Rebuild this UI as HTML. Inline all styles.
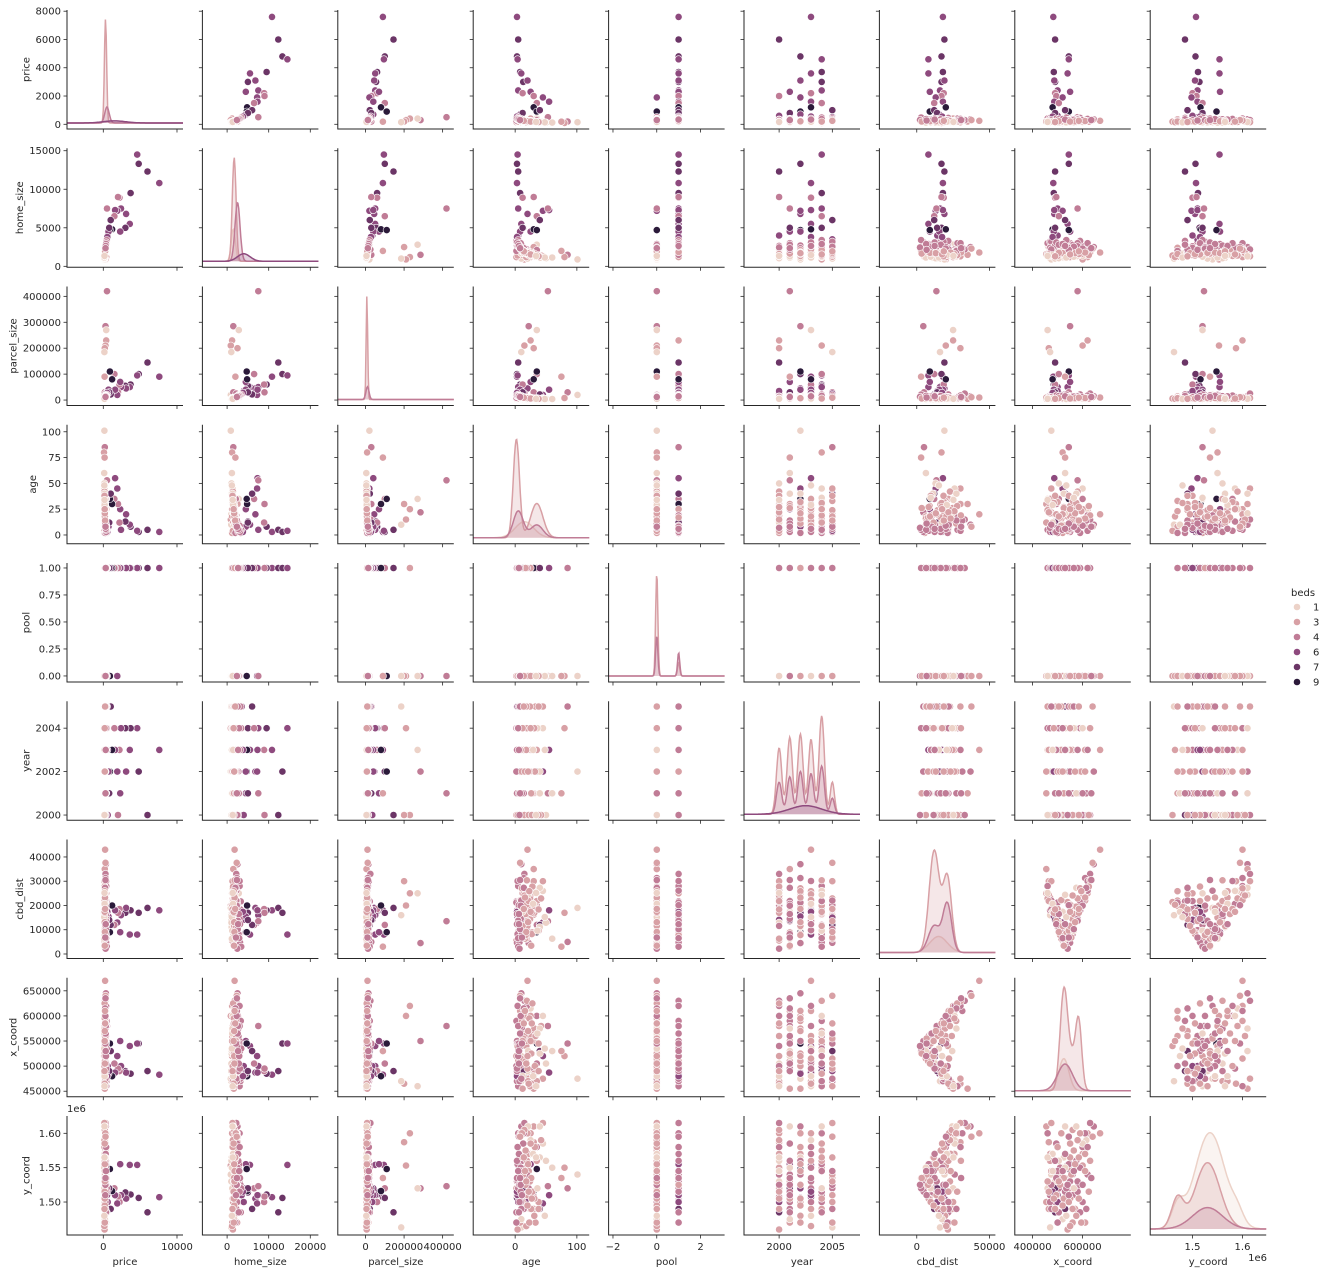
<!DOCTYPE html>
<html><head><meta charset="utf-8">
<style>
html,body{margin:0;padding:0;background:#fff;}
svg text{font-family:"DejaVu Sans","Liberation Sans",sans-serif;fill:#262626;}
</style></head>
<body>
<svg id="chart" xmlns="http://www.w3.org/2000/svg" width="1329" height="1274" viewBox="0 0 1329 1274">
<g id="panels"></g>
<g id="legend">
<text x="1291" y="596" font-size="10">beds</text>
</g>
</svg>
<script>
const vars=['price','home_size','parcel_size','age','pool','year','cbd_dist','x_coord','y_coord'];
const price=[7600,6000,4800,4600,3700,3600,3000,3100,2400,2200,2300,2000,1900,1600,1500,1200,900,1000,500,300,400,400,300,200,150,150,200,100,180,250,350,200,300,150,400,250,200,350,300,450,150,220,300,180,250,400,120,350,200,280,160,500,230,320,140,260,380,190,600,210,330,170,450,240,130,290,700,220,360,150,270,800,190,310,160,420,240,350,200,550,260,180,340,120,300,210,480,230,170,390,
180,220,260,150,300,200,240,350,170,280,190,320,210,160,270,380,230,300,180,250,200,340,150,260,310,200,230,400,170,280,190,350,210,140,260,320,200,290,230,180,370,220,160,270,210,330,190,250,170,300];
const homeSize=[10800,12300,13300,14500,9500,5500,5000,6800,7500,8900,4500,9000,7200,7300,6500,4800,4700,6000,7500,1500,2800,1200,900,2500,1000,900,1500,1200,2000,1800,2500,1500,2200,1300,3000,1700,1600,2400,2100,3200,1200,1800,2500,1500,2000,3000,1000,2800,1700,2300,1300,3500,1900,2600,1100,2100,3100,1600,4000,1750,2700,1400,3300,2000,1050,2400,4500,1850,2900,1250,2200,5000,1550,2500,1350,3200,1950,2750,1650,3800,2050,1450,2650,1150,2350,1800,3400,1900,1400,3000,
1400,1700,2000,1200,2400,1600,1900,2700,1350,2200,1500,2500,1700,1300,2100,3000,1800,2300,1450,2000,1600,2600,1250,2050,2450,1650,1850,3100,1400,2200,1550,2800,1700,1150,2100,2550,1600,2300,1800,1450,2900,1750,1300,2150,1700,2650,1550,1950,1350,2350];
const parcelSize=[90000,145000,100000,95000,60000,50000,55000,45000,50000,60000,70000,30000,20000,40000,100000,80000,110000,22000,420000,285000,270000,230000,210000,200000,185000,20000,30000,8000,90000,10000,15000,5000,25000,8000,12000,6000,9000,14000,7000,18000,6000,8000,10000,5000,7000,15000,4000,20000,9000,11000,5500,25000,8500,13000,3000,9500,17000,6500,35000,7500,14000,5000,22000,8000,4500,12000,40000,7000,16000,5000,10000,30000,6000,13000,5000,19000,8500,15000,6500,28000,9000,5500,14000,4000,11000,7500,21000,8000,5000,16000,
6000,7000,9000,5000,12000,6000,8000,15000,5000,10000,6000,13000,7500,5000,10000,17000,8000,11000,6000,9000,7000,14000,4500,9500,12500,6500,8000,18000,5500,10500,6000,15500,7000,4000,9500,13500,6500,11500,8000,6000,16500,7500,5000,10000,7000,14500,6000,9000,5000,12000];
const age=[3,5,3,4,8,10,13,20,5,12,25,30,45,55,35,30,35,40,53,22,35,25,15,30,10,101,85,80,75,20,10,30,15,45,5,25,12,8,35,3,2,5,8,12,15,3,20,10,25,6,30,4,18,9,40,14,7,22,5,28,11,35,2,16,50,13,8,24,4,33,19,12,27,9,45,6,21,11,31,3,17,38,7,60,14,26,5,20,42,9,
4,10,2,18,7,24,12,3,32,9,21,6,15,40,11,4,19,8,28,14,23,5,36,13,7,26,17,3,31,10,22,6,20,48,12,8,27,9,16,29,5,18,38,11,21,6,25,14,34,8];
const pool=[1,1,1,1,1,1,1,1,1,1,1,1,0,1,1,1,0,1,0,0,0,1,0,0,0,0,1,0,0,0,0,0,1,0,1,0,0,0,0,1,0,0,1,0,0,1,0,0,0,1,0,1,0,0,0,0,1,0,1,0,0,0,1,0,0,0,1,0,0,0,1,1,0,0,0,1,0,0,0,1,0,0,1,0,0,0,1,0,0,1,
0,0,1,0,0,0,0,1,0,0,0,1,0,0,0,1,0,0,0,0,0,1,0,0,0,0,1,1,0,0,0,1,0,0,0,1,0,0,0,0,1,0,0,0,0,1,0,0,0,0];
const year=[2003,2000,2002,2004,2004,2003,2004,2002,2004,2003,2001,2000,2002,2003,2004,2003,2002,2005,2001,2002,2003,2000,2004,2000,2005,2002,2005,2004,2001,2003,2002,2001,2000,2005,2004,2003,2002,2001,2000,2005,2000,2001,2002,2003,2004,2005,2000,2001,2002,2003,2004,2005,2000,2001,2002,2003,2004,2005,2000,2001,2002,2003,2004,2005,2000,2001,2002,2003,2004,2005,2000,2001,2002,2003,2004,2005,2000,2001,2002,2003,2004,2005,2000,2001,2002,2003,2004,2005,2000,2001,
2000,2001,2002,2003,2004,2005,2000,2001,2002,2003,2004,2005,2000,2001,2002,2003,2004,2005,2000,2001,2002,2003,2004,2005,2000,2001,2002,2003,2004,2005,2000,2001,2002,2003,2004,2005,2000,2001,2002,2003,2004,2005,2000,2001,2002,2003,2004,2005,2000,2001];
const cbdDist=[18000,19000,17000,8000,18000,8000,17000,19000,16000,18500,9000,17000,13000,18000,12000,20000,9000,12000,13500,4500,25000,25000,20000,30000,16000,19000,5000,17000,3000,43000,37000,35000,33000,30000,28000,26000,25000,22000,20000,18000,
5500,7600,11100,15000,9800,4600,13700,17800,23300,9600,16200,15000,6300,21800,11100,25900,4800,18800,14100,8900,15200,21800,21700,6300,12900,20700,15500,14400,8200,19800,26100,14000,8200,9800,26000,18400,23300,8200,19500,17400,16500,9600,11600,6300,31300,24600,3000,13600,22900,14500,
21400,17400,21200,20300,21800,22900,17400,16500,18600,22200,24400,20100,24100,27300,27100,30100,30400,37600,27800,27300,25900,13700,9600,6800,2200,3400,7800,12300,17000,22000,21800,16500,11600,15200,11600,10200,17000,19900,23300,20700,6500,9100,18400,6800,13100,12300,17400,18600,25200,30500];
const xCoord=[483000,490000,545000,545000,485000,540000,490000,487000,500000,490000,550000,495000,520000,487000,505000,480000,545000,530000,580000,550000,460000,620000,600000,465000,470000,475000,545000,520000,530000,670000,645000,455000,630000,475000,460000,615000,455000,610000,600000,470000,520000,510000,500000,580000,560000,550000,490000,590000,600000,505000,570000,490000,540000,600000,525000,610000,530000,475000,500000,550000,575000,470000,590000,515000,505000,495000,485000,560000,545000,560000,620000,490000,525000,510000,600000,475000,470000,560000,575000,480000,565000,545000,500000,530000,610000,465000,535000,495000,580000,580000,
540000,520000,500000,550000,470000,460000,480000,490000,500000,515000,530000,545000,560000,575000,590000,620000,630000,640000,625000,615000,595000,580000,565000,555000,540000,525000,510000,495000,485000,475000,465000,505000,520000,535000,550000,565000,585000,600000,610000,480000,520000,505000,490000,545000,570000,530000,550000,585000,460000,635000];
const yCoord=[1.507,1.485,1.506,1.554,1.511,1.554,1.514,1.505,1.510,1.500,1.555,1.508,1.498,1.510,1.520,1.516,1.548,1.490,1.523,1.520,1.520,1.600,1.553,1.587,1.463,1.540,1.520,1.550,1.535,1.600,1.610,1.610,1.615,1.615,1.600,1.590,1.500,1.470,1.580,1.510,1.520,1.530,1.540,1.550,1.510,1.530,1.530,1.550,1.570,1.520,1.490,1.510,1.550,1.500,1.565,1.570,1.515,1.545,1.500,1.505,1.560,1.560,1.485,1.535,1.560,1.585,1.520,1.490,1.555,1.470,1.540,1.520,1.505,1.550,1.585,1.525,1.570,1.540,1.480,1.515,1.575,1.500,1.545,1.550,1.600,1.490,1.520,1.510,1.590,1.515,
1.46,1.475,1.47,1.465,1.50,1.53,1.545,1.56,1.58,1.60,1.61,1.595,1.605,1.61,1.60,1.58,1.56,1.595,1.515,1.49,1.47,1.53,1.52,1.54,1.525,1.535,1.525,1.535,1.505,1.49,1.515,1.485,1.495,1.48,1.565,1.545,1.505,1.525,1.545,1.57,1.545,1.53,1.49,1.51,1.555,1.57,1.585,1.565,1.565,1.535];
const beds=[6,7,7,6,7,6,7,6,6,4,6,4,6,6,4,9,9,7,4,4,1,3,3,3,1,1,4,3,3,3,4,3,4,3,4,1,3,3,4,4,3,3,4,3,4,4,1,4,3,4,3,6,3,4,1,3,4,3,6,3,4,3,4,3,1,4,6,3,4,3,4,7,3,4,1,4,3,4,3,6,3,3,4,1,4,3,4,3,3,4,
3,1,4,3,4,3,1,4,3,3,1,4,3,1,3,4,3,3,3,4,3,4,1,3,4,3,3,4,3,4,3,4,3,1,3,4,3,4,3,1,4,3,3,4,3,4,3,3,1,4];
const columns=[price,homeSize,parcelSize,age,pool,year,cbdDist,xCoord,yCoord];

const xLo=[-4925,-5940,-144000,-68,-2.2,1996.7,-25700,329000,1.4154];
const xHi=[10815,21950,458000,120,3.1,2007.6,54100,793000,1.6474];
const yLo=[-333,-120,-21000,-8.5,-0.056,1999.76,-1860,439000,1.452];
const yHi=[8085,15320,438000,106.8,1.046,2005.24,47200,676000,1.6252];

const xTicks=[[0,10000],[0,10000,20000],[0,200000,400000],[0,100],[-2,0,2],[2000,2005],[0,50000],[400000,600000],[1.5,1.6]];
const xTickLabels=[['0','10000'],['0','10000','20000'],['0','200000','400000'],['0','100'],['\u22122','0','2'],['2000','2005'],['0','50000'],['400000','600000'],['1.5','1.6']];
const yTicks=[[0,2000,4000,6000,8000],[0,5000,10000,15000],[0,100000,200000,300000,400000],[0,25,50,75,100],[0,0.25,0.5,0.75,1],[2000,2002,2004],[0,10000,20000,30000,40000],[450000,500000,550000,600000,650000],[1.5,1.55,1.6]];
const yTickLabels=[['0','2000','4000','6000','8000'],['0','5000','10000','15000'],['0','100000','200000','300000','400000'],['0','25','50','75','100'],['0.00','0.25','0.50','0.75','1.00'],['2000','2002','2004'],['0','10000','20000','30000','40000'],['450000','500000','550000','600000','650000'],['1.50','1.55','1.60']];

const hueLevels=[1,3,4,6,7,9];
const hueColors=['#ecd2c8','#d8a0a5','#c07c96','#8e4a7e','#6b3566','#2b1a3a'];

const priceKde=[[3,[[300,150,0.97]]],[4,[[500,300,0.15]]],[6,[[1500,1500,0.02]]]];
const homeKde=[[1,[[1500,500,0.3]]],[3,[[1700,450,0.97]]],[4,[[2500,600,0.55]]],[6,[[4000,1500,0.07]]]];
const parcelKde=[[3,[[7000,4000,0.97]]],[4,[[10000,8000,0.12]]]];
const ageKde=[[1,[[15,15,0.15]]],[3,[[2,5,0.92],[35,10,0.32]]],[4,[[5,8,0.25],[35,10,0.12]]]];
const poolKde=[[3,[[0,0.05,0.97],[1,0.05,0.13]]],[4,[[0,0.05,0.38],[1,0.05,0.22]]]];
const yearKde=[[3,[[2000,0.25,0.62],[2001,0.25,0.72],[2002,0.25,0.75],[2003,0.25,0.7],[2004,0.25,0.92],[2005,0.2,0.3]]],[4,[[2000,0.25,0.3],[2001,0.25,0.35],[2002,0.25,0.4],[2003,0.25,0.38],[2004,0.25,0.45],[2005,0.2,0.15]]],[6,[[2002.5,1.5,0.08]]]];
const cbdKde=[[1,[[15000,6000,0.15]]],[3,[[12000,3500,0.95],[21000,3000,0.7]]],[4,[[12000,4000,0.25],[21000,3000,0.45]]]];
const xKde=[[1,[[525000,20000,0.3]]],[3,[[525000,15000,0.9],[585000,12000,0.55],[560000,20000,0.3]]],[4,[[530000,30000,0.25]]]];
const yKde=[[1,[[1.535,0.03,0.9],[1.47,0.012,0.2],[1.59,0.012,0.1]]],[3,[[1.53,0.025,0.62],[1.47,0.012,0.28]]],[4,[[1.53,0.03,0.2]]]];
const diagKde=[priceKde,homeKde,parcelKde,ageKde,poolKde,yearKde,cbdKde,xKde,yKde];

const NS='http://www.w3.org/2000/svg';
const root=document.getElementById('panels');
const PW=116, PH=119;
function colLeft(j){return 67+135.4*j;}
function rowTop(i){return 10+138.25*i;}
function sx(j,v){return colLeft(j)+(v-xLo[j])/(xHi[j]-xLo[j])*PW;}
function sy(i,v){return rowTop(i)+PH-(v-yLo[i])/(yHi[i]-yLo[i])*PH;}
function hueColor(b){const k=hueLevels.indexOf(b);return hueColors[k<0?1:k];}
function mk(tag,attrs,parent){const e=document.createElementNS(NS,tag);for(const k in attrs)e.setAttribute(k,attrs[k]);parent.appendChild(e);return e;}

for(let i=0;i<9;i++){
  for(let j=0;j<9;j++){
    const g=mk('g',{},root);
    
    
    const L=colLeft(j),T=rowTop(i),B=T+PH,R=L+PW;
    if(i===j){
      diagKde[i].forEach(function(h){
        const pts=[];
        for(let k=0;k<=160;k++){
          const xv=xLo[j]+(xHi[j]-xLo[j])*k/160;
          let d=0;
          h[1].forEach(function(c){d+=c[2]*Math.exp(-0.5*Math.pow((xv-c[0])/c[1],2));});
          pts.push([L+PW*k/160,B-6-d*(PH-12)]);
        }
        const line='M'+pts.map(p=>p[0].toFixed(1)+','+p[1].toFixed(1)).join('L');
        const col=hueColor(h[0]);
        const area=mk('path',{d:line+'L'+R+','+(B-6)+'L'+L+','+(B-6)+'Z',fill:col,'fill-opacity':0.25,stroke:'none'},g);
        
        
        const ln=mk('path',{d:line,fill:'none',stroke:col,'stroke-width':1.5},g);
        
        
      });
    } else {
      const xs=columns[j], ys=columns[i];
      for(let n=0;n<xs.length;n++){
        const c=mk('circle',{cx:sx(j,xs[n]).toFixed(1),cy:sy(i,ys[n]).toFixed(1),r:3.6,fill:hueColor(beds[n]),stroke:'#fff','stroke-width':0.6},g);
        
        
      }
    }
    const sp=mk('path',{d:'M'+L+','+T+'V'+B+'H'+R,fill:'none',stroke:'#262626','stroke-width':1},g);
    
    
    xTicks[j].forEach(function(v,k){
      const x=sx(j,v);
      const t=mk('line',{x1:x,x2:x,y1:B,y2:B+3.5,stroke:'#262626','stroke-width':0.8},g);
      
      
      if(i===8){
        const tl=mk('text',{x:x,y:B+15,'font-size':10,'text-anchor':'middle'},g);
        tl.textContent=xTickLabels[j][k];
        
        
      }
    });
    yTicks[i].forEach(function(v,k){
      const y=sy(i,v);
      const t=mk('line',{x1:L,x2:L-3.5,y1:y,y2:y,stroke:'#262626','stroke-width':0.8},g);
      
      
      if(j===0){
        const tl=mk('text',{x:L-6,y:y+3.5,'font-size':10,'text-anchor':'end'},g);
        tl.textContent=yTickLabels[i][k];
        
        
      }
    });
  }
}
for(let j=0;j<9;j++){
  const t=mk('text',{x:colLeft(j)+PW/2,y:1265,'font-size':10,'text-anchor':'middle'},root);
  t.textContent=vars[j];
  
  
}
for(let i=0;i<9;i++){
  const maxLen=Math.max.apply(null,yTickLabels[i].map(s=>s.length));
  const x=67-6-maxLen*6.4-6;
  const y=rowTop(i)+PH/2;
  const t=mk('text',{x:x,y:y,'font-size':10,'text-anchor':'middle',transform:'rotate(-90 '+x+' '+y+')'},root);
  t.textContent=vars[i];
  
  
}
const off1=mk('text',{x:67,y:1112,'font-size':10},root);
off1.textContent='1e6';


const off2=mk('text',{x:1267,y:1261,'font-size':10,'text-anchor':'end'},root);
off2.textContent='1e6';


const lg=document.getElementById('legend');
hueLevels.forEach(function(b,k){
  const y=607+15*k;
  const c=mk('circle',{cx:1297,cy:y,r:3.6,fill:hueColors[k],stroke:'#fff','stroke-width':0.6},lg);
  
  
  const t=mk('text',{x:1313,y:y+3.5,'font-size':10},lg);
  t.textContent=String(b);
  
  
});
</script>
</body></html>
